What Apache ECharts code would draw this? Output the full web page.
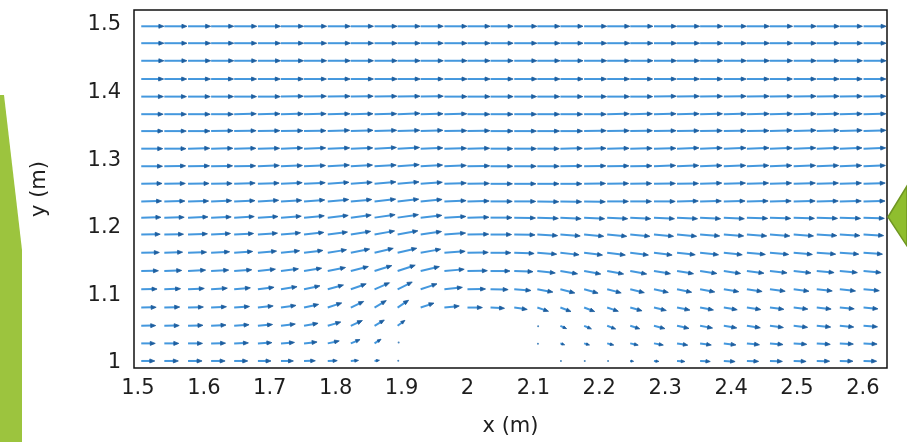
<!DOCTYPE html>
<html>
<head>
<meta charset="utf-8">
<title>Velocity field</title>
<script src="https://cdn.jsdelivr.net/npm/echarts@6/dist/echarts.min.js"></script>
<style>
  html, body { margin: 0; padding: 0; background: #ffffff; }
  #chart { width: 907px; height: 442px; }
</style>
</head>
<body>
<div id="chart"></div>
<script>
// grid of measurement points (m)
var xCols = [1.505, 1.540, 1.576, 1.611, 1.646, 1.682, 1.717, 1.752, 1.788, 1.823, 1.859, 1.894,
             1.929, 1.965, 2.000, 2.035, 2.071, 2.106, 2.141, 2.177, 2.212, 2.247, 2.283, 2.318,
             2.353, 2.389, 2.424, 2.459, 2.495, 2.530, 2.565, 2.601];
var yRows = [1.003, 1.029, 1.055, 1.082, 1.109, 1.136, 1.163, 1.190, 1.215, 1.239,
             1.265, 1.291, 1.317, 1.343, 1.368, 1.394, 1.420, 1.447, 1.473, 1.498];

// relative speed (free stream = 1), bottom row first, null = no data (obstacle)
var speedByRow = [
  [0.60,0.62,0.62,0.62,0.60,0.58,0.55,0.50,0.42,0.34,0.22,0.06,null,null,null,null,null,null,0.05,0.06,0.08,0.15,0.22,0.35,0.45,0.50,0.52,0.55,0.55,0.57,0.58,0.58],
  [0.62,0.64,0.64,0.64,0.63,0.62,0.60,0.58,0.52,0.44,0.34,0.12,null,null,null,null,null,0.06,0.20,0.25,0.30,0.36,0.42,0.48,0.50,0.54,0.56,0.58,0.58,0.60,0.60,0.60],
  [0.64,0.66,0.66,0.66,0.66,0.65,0.64,0.63,0.60,0.56,0.50,0.40,null,null,null,null,null,0.08,0.30,0.35,0.40,0.44,0.50,0.54,0.56,0.58,0.60,0.60,0.62,0.62,0.62,0.62],
  [0.66,0.68,0.68,0.68,0.68,0.68,0.67,0.66,0.65,0.63,0.60,0.58,0.62,0.66,0.66,0.62,0.58,0.52,0.50,0.50,0.52,0.54,0.56,0.58,0.60,0.60,0.62,0.62,0.63,0.64,0.64,0.64],
  [0.70,0.72,0.72,0.72,0.72,0.72,0.72,0.72,0.72,0.72,0.72,0.72,0.76,0.80,0.80,0.78,0.74,0.70,0.66,0.64,0.64,0.64,0.65,0.66,0.66,0.67,0.68,0.68,0.68,0.69,0.70,0.70],
  [0.76,0.77,0.78,0.78,0.78,0.78,0.78,0.79,0.80,0.80,0.80,0.82,0.85,0.88,0.88,0.86,0.83,0.80,0.77,0.75,0.74,0.74,0.74,0.74,0.75,0.75,0.76,0.76,0.77,0.77,0.78,0.78],
  [0.80,0.81,0.82,0.82,0.82,0.83,0.83,0.84,0.84,0.85,0.85,0.87,0.90,0.92,0.92,0.90,0.88,0.86,0.83,0.82,0.81,0.81,0.81,0.81,0.82,0.82,0.82,0.83,0.83,0.84,0.84,0.84],
  [0.84,0.85,0.86,0.86,0.86,0.87,0.87,0.88,0.88,0.89,0.90,0.91,0.93,0.94,0.94,0.93,0.92,0.90,0.88,0.87,0.87,0.87,0.87,0.87,0.87,0.88,0.88,0.88,0.88,0.89,0.89,0.89],
  [0.87,0.88,0.88,0.89,0.89,0.89,0.90,0.90,0.91,0.91,0.92,0.93,0.94,0.95,0.95,0.95,0.94,0.93,0.92,0.91,0.91,0.91,0.91,0.91,0.91,0.91,0.92,0.92,0.92,0.92,0.92,0.92],
  [0.90,0.91,0.91,0.91,0.92,0.92,0.92,0.92,0.93,0.93,0.94,0.94,0.95,0.96,0.96,0.96,0.95,0.95,0.94,0.94,0.94,0.94,0.94,0.94,0.94,0.94,0.94,0.94,0.95,0.95,0.95,0.95],
  [0.92,0.93,0.93,0.93,0.93,0.94,0.94,0.94,0.94,0.95,0.95,0.95,0.96,0.97,0.97,0.97,0.96,0.96,0.95,0.95,0.95,0.95,0.95,0.95,0.96,0.96,0.96,0.96,0.96,0.96,0.96,0.96],
  [0.94,0.94,0.95,0.95,0.95,0.95,0.95,0.95,0.96,0.96,0.96,0.96,0.97,0.97,0.98,0.98,0.97,0.97,0.96,0.96,0.96,0.96,0.96,0.96,0.97,0.97,0.97,0.97,0.97,0.97,0.97,0.97],
  [0.95,0.96,0.96,0.96,0.96,0.96,0.96,0.96,0.97,0.97,0.97,0.97,0.98,0.98,0.98,0.98,0.98,0.97,0.97,0.97,0.97,0.97,0.97,0.97,0.98,0.98,0.98,0.98,0.98,0.98,0.98,0.98],
  [0.96,0.97,0.97,0.97,0.97,0.97,0.97,0.97,0.97,0.98,0.98,0.98,0.98,0.99,0.99,0.99,0.98,0.98,0.98,0.98,0.98,0.98,0.98,0.98,0.98,0.98,0.98,0.98,0.99,0.99,0.99,0.99],
  [0.97,0.98,0.98,0.98,0.98,0.98,0.98,0.98,0.98,0.98,0.98,0.99,0.99,0.99,0.99,0.99,0.99,0.99,0.98,0.98,0.98,0.98,0.98,0.98,0.99,0.99,0.99,0.99,0.99,0.99,0.99,0.99],
  [0.98,0.98,0.98,0.99,0.99,0.99,0.99,0.99,0.99,0.99,0.99,0.99,1.00,1.00,1.00,1.00,0.99,0.99,0.99,0.99,0.99,0.99,0.99,0.99,0.99,0.99,0.99,0.99,0.99,0.99,0.99,0.99],
  [0.99,0.99,0.99,0.99,0.99,0.99,0.99,0.99,0.99,1.00,1.00,1.00,1.00,1.00,1.00,1.00,1.00,1.00,1.00,0.99,0.99,0.99,0.99,0.99,0.99,0.99,0.99,0.99,0.99,0.99,0.99,0.99],
  [1.00,1.00,1.00,1.00,1.00,1.00,1.00,1.00,1.00,1.00,1.00,1.00,1.00,1.00,1.00,1.00,1.00,1.00,1.00,1.00,1.00,1.00,1.00,1.00,1.00,1.00,1.00,1.00,1.00,1.00,1.00,1.00],
  [1.00,1.00,1.00,1.00,1.00,1.00,1.00,1.00,1.00,1.00,1.00,1.00,1.00,1.00,1.00,1.00,1.00,1.00,1.00,1.00,1.00,1.00,1.00,1.00,1.00,1.00,1.00,1.00,1.00,1.00,1.00,1.00],
  [1.00,1.00,1.00,1.00,1.00,1.00,1.00,1.00,1.00,1.00,1.00,1.00,1.00,1.00,1.00,1.00,1.00,1.00,1.00,1.00,1.00,1.00,1.00,1.00,1.00,1.00,1.00,1.00,1.00,1.00,1.00,1.00]
];

// flow direction in degrees (0 = pointing right, + = upward)
var angleByRow = [
  [0,0,0,0,0,0,0,1,2,4,8,10,null,null,null,null,null,null,-10,-10,-8,-6,-5,-4,-3,-3,-2,-2,-2,-1,-1,-1],
  [0,0,0,1,2,3,4,6,12,22,32,40,null,null,null,null,null,-20,-18,-16,-14,-12,-10,-9,-8,-7,-6,-5,-4,-4,-3,-3],
  [1,1,2,3,4,5,7,10,16,24,30,36,null,null,null,null,null,-25,-24,-22,-20,-17,-14,-12,-10,-9,-8,-7,-6,-5,-5,-4],
  [1,2,2,3,4,6,8,12,18,25,30,33,18,6,0,-3,-8,-18,-20,-20,-18,-15,-13,-11,-10,-9,-8,-7,-6,-6,-5,-5],
  [1,2,3,4,5,7,9,12,15,19,23,26,18,6,1,-1,-4,-10,-14,-15,-14,-13,-12,-11,-10,-9,-8,-7,-7,-6,-6,-5],
  [1,2,3,3,4,6,7,9,11,14,17,18,13,5,1,0,-2,-6,-9,-10,-10,-10,-9,-9,-8,-8,-7,-6,-6,-5,-5,-5],
  [1,2,2,3,4,5,6,7,9,11,13,13,10,4,1,0,-2,-4,-6,-7,-7,-7,-7,-6,-6,-6,-5,-5,-5,-4,-4,-4],
  [1,1,2,3,3,4,5,6,7,9,10,10,8,4,1,0,-1,-3,-4,-5,-5,-5,-5,-5,-4,-4,-4,-4,-4,-3,-3,-3],
  [1,1,2,2,3,3,4,5,6,7,8,8,6,3,1,0,-1,-2,-3,-3,-3,-3,-3,-3,-3,-3,-2,-2,-2,-2,-2,-2],
  [1,1,1,2,2,3,3,4,5,5,6,6,5,2,1,0,0,-1,-1,-1,0,0,0,1,1,1,1,1,1,1,1,1],
  [1,1,1,1,2,2,3,3,4,4,5,5,4,2,1,0,0,0,0,1,1,1,1,1,2,2,2,2,2,2,2,2],
  [0,1,1,1,1,2,2,2,3,3,3,4,3,2,1,0,0,0,1,1,1,1,2,2,2,2,2,2,2,2,2,2],
  [0,0,1,1,1,1,2,2,2,2,3,3,2,1,1,0,0,0,1,1,1,1,1,2,2,2,2,2,2,2,2,2],
  [0,0,0,1,1,1,1,1,2,2,2,2,2,1,1,0,0,0,0,1,1,1,1,1,1,1,1,2,2,2,2,2],
  [0,0,0,0,1,1,1,1,1,1,1,2,1,1,0,0,0,0,0,0,1,1,1,1,1,1,1,1,1,1,1,1],
  [0,0,0,0,0,0,1,1,1,1,1,1,1,0,0,0,0,0,0,0,0,0,1,1,1,1,1,1,1,1,1,1],
  [0,0,0,0,0,0,0,0,0,0,0,0,0,0,0,0,0,0,0,0,0,0,0,0,0,0,0,0,0,0,0,0],
  [0,0,0,0,0,0,0,0,0,0,0,0,0,0,0,0,0,0,0,0,0,0,0,0,0,0,0,0,0,0,0,0],
  [0,0,0,0,0,0,0,0,0,0,0,0,0,0,0,0,0,0,0,0,0,0,0,0,0,0,0,0,0,0,0,0],
  [0,0,0,0,0,0,0,0,0,0,0,0,0,0,0,0,0,0,0,0,0,0,0,0,0,0,0,0,0,0,0,0]
];

var xTicks = [1.5, 1.6, 1.7, 1.8, 1.9, 2, 2.1, 2.2, 2.3, 2.4, 2.5, 2.6];
var yTicks = [1, 1.1, 1.2, 1.3, 1.4, 1.5];

// arrow length (m) drawn for a relative speed of 1
var arrowScale = 0.0343;

var field = [];
for (var r = 0; r < yRows.length; r++) {
  for (var k = 0; k < xCols.length; k++) {
    var s = speedByRow[r][k];
    if (s == null) continue;
    var a = angleByRow[r][k] * Math.PI / 180;
    field.push([xCols[k], yRows[r], s * Math.cos(a), s * Math.sin(a)]);
  }
}

function drawArrow(params, api) {
  var x = api.value(0), y = api.value(1);
  var p0 = api.coord([x, y]);
  var p1 = api.coord([x + api.value(2) * arrowScale, y + api.value(3) * arrowScale]);
  var dx = p1[0] - p0[0], dy = p1[1] - p0[1];
  var len = Math.sqrt(dx * dx + dy * dy);
  if (len < 3) {
    return {
      type: 'circle',
      shape: { cx: p0[0] + dx / 2, cy: p0[1] + dy / 2, r: 1 },
      style: { fill: '#4a86bd' }
    };
  }
  var ux = dx / len, uy = dy / len;
  var hl = Math.min(5, len * 0.25 + 1.8);
  var hw = hl * 0.4;
  var bx = p1[0] - ux * hl, by = p1[1] - uy * hl;
  return {
    type: 'group',
    children: [
      {
        type: 'line',
        shape: { x1: p0[0], y1: p0[1], x2: bx + ux, y2: by + uy },
        style: { stroke: '#4498de', lineWidth: 2 }
      },
      {
        type: 'polygon',
        shape: { points: [[p1[0], p1[1]], [bx - uy * hw, by + ux * hw], [bx + uy * hw, by - ux * hw]] },
        style: { fill: '#1d5e9f', stroke: '#1d5e9f', lineWidth: 0.8 }
      }
    ]
  };
}

var textFont = 'DejaVu Sans';

var chart = echarts.init(document.getElementById('chart'));
chart.setOption({
  animation: false,
  backgroundColor: '#ffffff',
  grid: {
    left: 134,
    right: 20,
    top: 10,
    bottom: 73,
    show: true,
    backgroundColor: '#ffffff',
    borderColor: '#111111',
    borderWidth: 1.5
  },
  xAxis: {
    type: 'value',
    min: 1.494,
    max: 2.6366,
    name: 'x (m)',
    nameLocation: 'middle',
    nameGap: 48,
    nameTextStyle: { fontFamily: textFont, fontSize: 21, color: '#1e1e1e' },
    axisLine: { show: false },
    axisTick: { show: false },
    splitLine: { show: false },
    axisLabel: {
      customValues: xTicks,
      margin: 10,
      fontFamily: textFont,
      fontSize: 21,
      color: '#1e1e1e'
    }
  },
  yAxis: {
    type: 'value',
    min: 0.9926,
    max: 1.5221,
    name: 'y (m)',
    nameLocation: 'middle',
    nameGap: 84,
    nameTextStyle: { fontFamily: textFont, fontSize: 21, color: '#1e1e1e' },
    axisLine: { show: false },
    axisTick: { show: false },
    splitLine: { show: false },
    axisLabel: {
      customValues: yTicks,
      margin: 13,
      fontFamily: textFont,
      fontSize: 21,
      color: '#1e1e1e'
    }
  },
  series: [{
    type: 'custom',
    renderItem: drawArrow,
    data: field,
    clip: true,
    silent: true
  }],
  graphic: [
    {
      type: 'polygon',
      shape: { points: [[0, 95], [4, 95], [22, 250], [22, 442], [0, 442]] },
      style: { fill: '#9cc43e' }
    },
    {
      type: 'polygon',
      shape: { points: [[888, 217], [907, 186], [907, 246]] },
      style: { fill: '#8fbe2e', stroke: '#6f9622', lineWidth: 1.5 }
    }
  ]
});
</script>
</body>
</html>
